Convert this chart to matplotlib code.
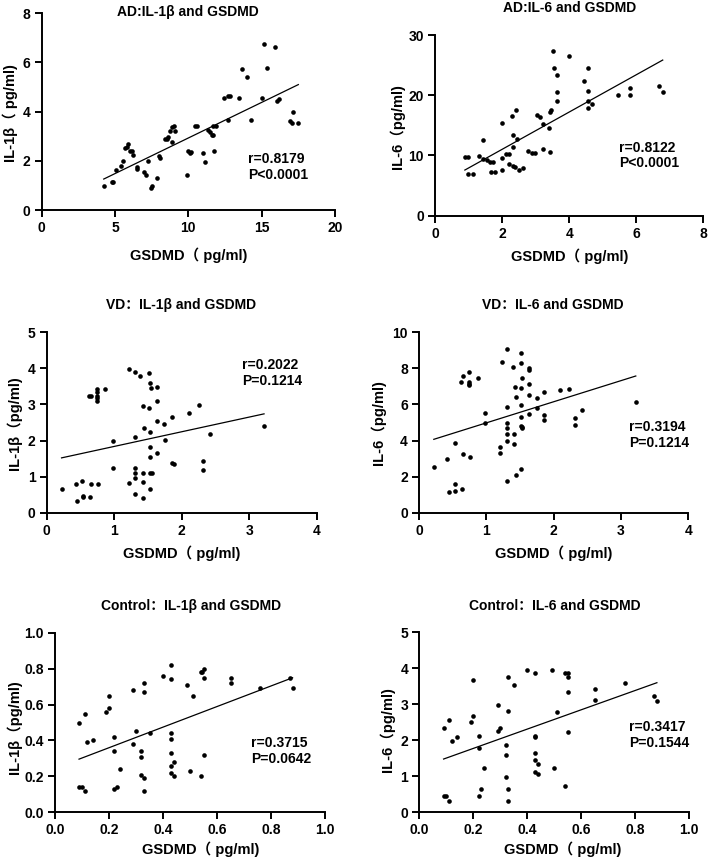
import matplotlib
matplotlib.use('Agg')
import matplotlib.pyplot as plt
import numpy as np

plt.rcParams['font.family'] = ['Liberation Sans', 'Noto Sans CJK SC', 'DejaVu Sans']
plt.rcParams['font.weight'] = 'bold'

W, H = 709, 860

# ---- data ----
ad_il1b_x = [4.23, 4.77, 4.89, 5.07, 5.39, 5.52, 5.68, 5.80, 5.91, 6.02, 6.18, 6.20, 6.48, 6.52,
             6.98, 7.09, 7.23, 7.43, 7.55, 7.89, 8.02, 8.07, 8.41, 8.52, 8.64, 8.75, 8.89, 8.86,
             9.02, 9.09, 9.89, 10.0, 10.1, 10.16, 10.45, 10.61, 11.0, 11.14, 11.36, 11.48, 11.59,
             11.7, 11.7, 11.89, 11.77, 12.43, 12.7, 12.84, 12.7, 13.45, 13.68, 14.02, 14.25, 15.05,
             15.18, 15.39, 15.93, 16.02, 16.18, 16.93, 17.07, 17.16, 17.5]
ad_il1b_y = [0.98, 1.15, 1.15, 1.63, 1.80, 1.98, 2.51, 2.58, 2.68, 2.41, 2.41, 2.22, 1.76, 1.65,
             1.53, 1.42, 1.98, 0.88, 0.98, 1.32, 2.21, 2.10, 2.87, 2.87, 2.96, 3.23, 3.36, 2.78,
             3.42, 3.23, 1.44, 2.41, 2.31, 2.37, 3.43, 3.43, 2.31, 1.97, 3.25, 3.16, 3.05,
             3.05, 3.43, 3.43, 2.41, 4.54, 4.65, 4.65, 3.66, 4.54, 5.75, 5.42, 3.66, 4.54,
             6.75, 5.76, 6.64, 4.45, 4.52, 3.63, 3.53, 4.00, 3.53]

ad_il6_x = [0.89, 0.97, 0.99, 1.14, 1.32, 1.42, 1.44, 1.54, 1.64, 1.74, 1.66, 1.79, 1.99, 1.99,
            2.01, 2.11, 2.21, 2.22, 2.31, 2.32, 2.32, 2.34, 2.39, 2.41, 2.44, 2.51, 2.63, 2.76,
            2.88, 2.98, 3.03, 3.13, 3.21, 3.23, 3.41, 3.43, 3.43, 3.45, 3.52, 3.55, 3.65, 3.65,
            3.65, 4.01, 4.44, 4.55, 4.55, 4.55, 4.55, 4.67, 5.45, 5.80, 5.80, 6.68, 6.79]
ad_il6_y = [9.68, 9.68, 6.92, 6.92, 9.96, 12.56, 9.35, 9.24, 8.96, 8.85, 7.19, 7.30, 15.44, 9.52,
            7.58, 10.24, 10.24, 8.58, 16.55, 13.45, 11.46, 8.30, 8.13, 17.54, 12.67, 7.58, 7.86, 10.79,
            10.35, 10.46, 16.71, 16.44, 11.01, 15.22, 14.61, 10.62, 17.27, 17.54, 27.39, 24.46, 23.35, 20.53,
            19.04, 26.56, 22.41, 24.46, 20.70, 19.04, 17.93, 18.54, 20.03, 21.25, 19.98, 21.53, 20.59]

vd_il1b_x = [0.22, 0.43, 0.45, 0.53, 0.54, 0.54, 0.64, 0.66, 0.76, 0.62, 0.66, 0.75, 0.75, 0.75,
             0.75, 0.75, 0.86, 0.98, 0.98, 1.22, 1.22, 1.31, 1.38, 1.31, 1.31, 1.31, 1.31, 1.31,
             1.42, 1.44, 1.42, 1.42, 1.43, 1.52, 1.53, 1.54, 1.52, 1.53, 1.53, 1.53, 1.53, 1.56,
             1.53, 1.63, 1.63, 1.64, 1.63, 1.74, 1.75, 1.86, 1.86, 1.88, 2.11, 2.25, 2.32, 2.31,
             2.42, 3.22]
vd_il1b_y = [0.67, 0.79, 0.32, 0.88, 0.46, 0.43, 0.44, 0.79, 0.79, 3.23, 3.23, 3.44, 3.35, 3.23,
             3.17, 3.10, 3.42, 1.99, 1.23, 3.98, 0.81, 3.91, 3.80, 2.11, 1.25, 1.11, 0.97, 0.51,
             2.97, 2.34, 1.09, 0.84, 0.40, 3.88, 3.59, 3.45, 2.89, 2.23, 1.83, 1.53, 1.09, 1.11,
             0.65, 3.49, 3.10, 2.54, 1.65, 2.45, 2.01, 2.66, 1.39, 1.35, 2.77, 2.99, 1.43, 1.18,
             2.18, 2.40]

vd_il6_x = [0.22, 0.42, 0.44, 0.53, 0.53, 0.53, 0.64, 0.65, 0.63, 0.66, 0.75, 0.75, 0.75, 0.75,
            0.76, 0.87, 0.98, 0.98, 1.21, 1.21, 1.23, 1.31, 1.30, 1.31, 1.30, 1.30, 1.30, 1.30,
            1.39, 1.43, 1.44, 1.41, 1.41, 1.44, 1.52, 1.52, 1.53, 1.52, 1.52, 1.52, 1.52, 1.53,
            1.53, 1.52, 1.63, 1.63, 1.63, 1.63, 1.63, 1.75, 1.75, 1.86, 1.86, 1.86, 2.10, 2.23,
            2.32, 2.31, 2.42, 3.22]
vd_il6_y = [2.53, 2.98, 1.13, 3.88, 1.57, 1.22, 1.31, 3.25, 7.23, 7.58, 7.78, 7.26, 7.15, 7.08,
            3.11, 7.47, 5.55, 4.99, 3.66, 3.33, 8.37, 9.09, 5.88, 4.99, 4.68, 4.34, 3.99, 1.76,
            8.10, 6.99, 6.43, 4.34, 3.79, 2.09, 8.87, 8.32, 7.45, 6.89, 5.97, 5.32, 4.81, 4.68,
            4.73, 2.42, 8.00, 7.91, 7.12, 6.52, 5.45, 6.34, 5.79, 6.67, 5.42, 5.14, 6.80, 6.86,
            5.23, 4.88, 5.69, 6.12]

ctrl_il1b_x = [0.09, 0.089, 0.099, 0.11, 0.11, 0.12, 0.14, 0.19, 0.20, 0.20, 0.22, 0.22, 0.22, 0.23,
               0.24, 0.29, 0.29, 0.30, 0.32, 0.32, 0.32, 0.33, 0.33, 0.33, 0.33, 0.35, 0.40, 0.43,
               0.43, 0.43, 0.43, 0.43, 0.43, 0.43, 0.44, 0.44, 0.49, 0.51, 0.50, 0.54, 0.543, 0.55,
               0.55, 0.55, 0.54, 0.65, 0.65, 0.76, 0.87, 0.88]
ctrl_il1b_y = [0.50, 0.14, 0.14, 0.12, 0.55, 0.39, 0.40, 0.56, 0.58, 0.65, 0.42, 0.34, 0.13, 0.14,
               0.24, 0.68, 0.38, 0.45, 0.34, 0.31, 0.21, 0.19, 0.72, 0.67, 0.12, 0.44, 0.76, 0.82,
               0.74, 0.44, 0.41, 0.33, 0.26, 0.22, 0.28, 0.20, 0.71, 0.65, 0.23, 0.78, 0.78, 0.80,
               0.75, 0.32, 0.20, 0.75, 0.72, 0.69, 0.75, 0.69]

ctrl_il6_x = [0.09, 0.09, 0.10, 0.11, 0.11, 0.12, 0.14, 0.19, 0.20, 0.20, 0.22, 0.22, 0.22, 0.23,
              0.24, 0.29, 0.29, 0.30, 0.32, 0.32, 0.32, 0.33, 0.33, 0.33, 0.33, 0.35, 0.40, 0.43,
              0.43, 0.43, 0.43, 0.43, 0.43, 0.44, 0.44, 0.49, 0.51, 0.50, 0.54, 0.55, 0.55, 0.55,
              0.55, 0.54, 0.65, 0.65, 0.76, 0.87, 0.88]
ctrl_il6_y = [2.33, 0.45, 0.45, 0.32, 2.56, 1.98, 2.08, 2.50, 2.68, 3.68, 2.13, 1.78, 0.44, 0.65,
              1.22, 2.98, 2.26, 2.33, 1.87, 1.59, 0.97, 3.77, 2.80, 0.65, 0.31, 3.54, 3.95, 3.86,
              2.13, 2.10, 1.66, 1.45, 1.11, 1.33, 1.06, 3.95, 2.78, 1.24, 3.88, 3.88, 3.77, 3.33,
              2.22, 0.74, 3.43, 3.12, 3.58, 3.24, 3.10]

# regression lines as drawn in the figure (slope, intercept)
fit_slope = [0.2895, 3.095, 0.4067, 1.17, 0.573, 2.684]
fit_intercept = [0.034, 4.825, 1.43, 3.81, 0.245, 1.238]

titles = ['AD:IL-1β and GSDMD', 'AD:IL-6 and GSDMD',
          'VD：IL-1β and GSDMD', 'VD：IL-6 and GSDMD',
          'Control：IL-1β and GSDMD', 'Control：IL-6 and GSDMD']
ylabels = ['IL-1β（ pg/ml)', 'IL-6（pg/ml)', 'IL-1β（pg/ml)', 'IL-6（pg/ml)',
           'IL-1β（pg/ml)', 'IL-6（pg/ml)']
xlabel = 'GSDMD（ pg/ml)'
stats = ['r=0.8179\nP<0.0001', 'r=0.8122\nP<0.0001', 'r=0.2022\nP=0.1214',
         'r=0.3194\nP=0.1214', 'r=0.3715\nP=0.0642', 'r=0.3417\nP=0.1544']

xs = [ad_il1b_x, ad_il6_x, vd_il1b_x, vd_il6_x, ctrl_il1b_x, ctrl_il6_x]
ys = [ad_il1b_y, ad_il6_y, vd_il1b_y, vd_il6_y, ctrl_il1b_y, ctrl_il6_y]
xticks = [[0, 5, 10, 15, 20], [0, 2, 4, 6, 8], [0, 1, 2, 3, 4], [0, 1, 2, 3, 4],
          [0, 0.2, 0.4, 0.6, 0.8, 1.0], [0, 0.2, 0.4, 0.6, 0.8, 1.0]]
yticks = [[0, 2, 4, 6, 8], [0, 10, 20, 30], [0, 1, 2, 3, 4, 5], [0, 2, 4, 6, 8, 10],
          [0, 0.2, 0.4, 0.6, 0.8, 1.0], [0, 1, 2, 3, 4, 5]]

# ---- layout (pixels) ----
# axes box: left, right, top, bottom
boxes = [(41.7, 335, 13.3, 210), (435, 703.3, 35, 215.7),
         (46.7, 316.7, 332.3, 512.7), (419, 688.3, 332.3, 512.7),
         (55, 325, 632.7, 812.3), (419.3, 689.3, 632.3, 812.3)]
title_pos = [(188, 11.7), (570, 7.5), (181, 305), (553, 305), (191, 606), (555, 606)]
xlab_pos = [(189, 255), (570, 256), (182, 553), (554, 553), (201, 849), (563, 849)]
ylab_pos = [(10, 113), (397, 127), (14, 423), (378, 423), (14, 727), (387, 730)]
stat_pos = [(14.1, 1.76), (5.5, 10.0), (2.89, 3.88), (3.12, 4.31), (0.725, 0.34), (0.778, 2.14)]

fig = plt.figure(figsize=(W / 100, H / 100), dpi=100)


def fx(px):
    return px / W


def fy(py):
    return 1 - py / H


for i in range(6):
    l, r, t, b = boxes[i]
    ax = fig.add_axes([fx(l), fy(b), (r - l) / W, (b - t) / H])
    x = np.array(xs[i])
    y = np.array(ys[i])
    ax.scatter(x, y, s=11, color='black', linewidths=0, clip_on=False, zorder=3)

    # regression line over the data range
    lx = np.array([x.min(), x.max()])
    ax.plot(lx, fit_slope[i] * lx + fit_intercept[i], color='black', lw=0.9)

    ax.set_xlim(xticks[i][0], xticks[i][-1])
    ax.set_ylim(yticks[i][0], yticks[i][-1])
    ax.set_xticks(xticks[i])
    ax.set_yticks(yticks[i])
    if i >= 4:
        ax.set_xticklabels(['%.1f' % v for v in xticks[i]])
        if i == 4:
            ax.set_yticklabels(['%.1f' % v for v in yticks[i]])
    for s in ['top', 'right']:
        ax.spines[s].set_visible(False)
    for s in ['left', 'bottom']:
        ax.spines[s].set_linewidth(1.4)
    ax.tick_params(width=1.4, length=5, labelsize=10, pad=3)
    for lab in ax.get_xticklabels() + ax.get_yticklabels():
        lab.set_fontweight('bold')

    ax.text(stat_pos[i][0], stat_pos[i][1], stats[i], ha='left', va='center',
            fontsize=10, fontweight='bold', linespacing=1.15)

    fig.text(fx(title_pos[i][0]), fy(title_pos[i][1]), titles[i], ha='center', va='center',
             fontsize=10, fontweight='bold')
    fig.text(fx(xlab_pos[i][0]), fy(xlab_pos[i][1]), xlabel, ha='center', va='center',
             fontsize=10.5, fontweight='bold')
    fig.text(fx(ylab_pos[i][0]), fy(ylab_pos[i][1]), ylabels[i], ha='center', va='center',
             fontsize=10.5, fontweight='bold', rotation=90)

fig.savefig('out.png', dpi=100, facecolor='white')
